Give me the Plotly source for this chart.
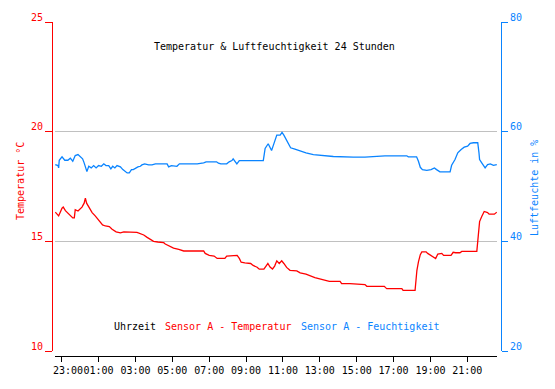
import plotly.graph_objects as go

# ---------------- data ----------------
temp_times = [
    "22:39", "22:50", "23:01", "23:05", "23:12", "23:20", "23:36", "23:41", "23:44", "23:53",
    "00:06", "00:13", "00:17", "00:21", "00:30", "00:39", "00:49", "00:58", "01:06", "01:13",
    "01:22", "01:35", "01:44", "01:57", "02:11", "02:22", "03:05", "03:13", "03:27", "03:38",
    "03:48", "03:59", "04:13", "04:32", "04:37", "04:50", "05:04", "05:21", "05:37", "06:42",
    "06:47", "07:00", "07:16", "07:26", "07:51", "07:57", "08:13", "08:18", "08:31", "08:38",
    "08:44", "08:56", "09:15", "09:23", "09:36", "09:43", "09:58", "10:05", "10:11", "10:18",
    "10:26", "10:33", "10:40", "10:48", "10:56", "11:03", "11:12", "11:23", "11:45", "11:56",
    "12:15", "12:44", "13:11", "13:31", "14:06", "14:11", "14:38", "15:27", "15:33", "16:30",
    "16:34", "16:38", "17:27", "17:31", "18:10", "18:12", "18:16", "18:21", "18:27", "18:32",
    "18:46", "18:51", "19:00", "19:06", "19:17", "19:24", "19:37", "19:43", "20:07", "20:14",
    "20:22", "20:36", "20:42", "21:31", "21:36", "21:40", "21:47", "21:55", "22:06", "22:11",
    "22:28", "22:36",
]
temp_values = [
    16.33, 16.16, 16.51, 16.56, 16.40, 16.28, 16.07, 16.07, 16.44, 16.38,
    16.56, 16.74, 16.97, 16.74, 16.51, 16.31, 16.16, 16.01, 15.89, 15.75,
    15.70, 15.67, 15.55, 15.43, 15.39, 15.43, 15.41, 15.37, 15.29, 15.18,
    15.09, 15.00, 14.97, 14.94, 14.88, 14.78, 14.69, 14.63, 14.56, 14.56,
    14.45, 14.36, 14.33, 14.22, 14.22, 14.33, 14.34, 14.37, 14.36, 14.22,
    14.05, 14.02, 13.99, 13.90, 13.82, 13.73, 13.73, 13.87, 13.99, 13.83,
    13.74, 13.87, 14.11, 13.99, 14.11, 13.99, 13.81, 13.68, 13.65, 13.56,
    13.50, 13.35, 13.26, 13.17, 13.17, 13.07, 13.07, 13.03, 12.95, 12.95,
    12.89, 12.84, 12.84, 12.76, 12.76, 13.15, 13.68, 14.06, 14.39, 14.52,
    14.52, 14.45, 14.36, 14.29, 14.22, 14.42, 14.45, 14.36, 14.36, 14.50,
    14.48, 14.48, 14.54, 14.54, 15.29, 15.90, 16.13, 16.36, 16.31, 16.24,
    16.24, 16.33,
]

hum_times = [
    "22:39", "22:48", "22:50", "22:52", "23:01", "23:10", "23:20", "23:28", "23:36", "23:44",
    "23:53", "00:00", "00:08", "00:13", "00:17", "00:22", "00:28", "00:36", "00:44", "00:52",
    "01:00", "01:09", "01:17", "01:24", "01:33", "01:40", "01:46", "01:53", "02:00", "02:11",
    "02:19", "02:27", "02:33", "02:40", "02:47", "02:53", "03:00", "03:08", "03:16", "03:21",
    "03:30", "03:43", "03:54", "04:05", "04:43", "04:48", "04:57", "05:08", "05:15", "05:23",
    "06:21", "06:42", "06:50", "07:24", "07:30", "07:38", "07:57", "08:05", "08:14", "08:18",
    "08:24", "08:30", "08:38", "09:56", "09:59", "10:02", "10:12", "10:18", "10:23", "10:29",
    "10:35", "10:40", "10:51", "10:57", "11:03", "11:10", "11:17", "11:25", "11:39", "11:56",
    "12:15", "12:39", "13:06", "13:44", "14:49", "15:27", "16:32", "17:43", "17:48", "18:15",
    "18:21", "18:27", "18:34", "18:48", "19:02", "19:13", "19:20", "19:31", "20:04", "20:09",
    "20:20", "20:29", "20:40", "20:50", "21:01", "21:09", "21:20", "21:34", "21:38", "21:40",
    "21:47", "21:58", "22:06", "22:15", "22:25", "22:36",
]
hum_values = [
    54.00, 53.82, 53.39, 54.79, 55.41, 54.79, 54.79, 55.16, 54.61, 55.65,
    55.83, 55.41, 55.05, 54.31, 53.39, 52.72, 53.69, 53.39, 53.82, 53.39,
    53.82, 53.69, 54.13, 53.82, 53.82, 53.21, 53.69, 53.39, 53.82, 53.58,
    53.08, 52.77, 52.48, 52.48, 53.08, 53.08, 53.39, 53.58, 53.69, 53.94,
    54.13, 53.94, 53.94, 54.13, 54.13, 53.58, 53.82, 53.82, 53.69, 54.13,
    54.13, 54.31, 54.50, 54.50, 54.24, 54.13, 54.13, 54.50, 54.73, 55.05,
    54.50, 54.13, 54.73, 54.73, 55.83, 56.94, 57.80, 57.17, 56.57, 57.54,
    58.59, 59.38, 59.38, 59.87, 59.38, 58.59, 57.80, 57.06, 56.81, 56.44,
    56.15, 55.83, 55.71, 55.47, 55.34, 55.34, 55.60, 55.60, 55.41, 55.41,
    54.61, 53.50, 53.08, 52.95, 53.08, 53.39, 53.08, 52.66, 52.66, 53.87,
    54.92, 56.15, 56.75, 57.17, 57.36, 57.85, 57.98, 57.98, 56.15, 54.92,
    54.31, 53.39, 54.00, 54.13, 53.87, 54.00,
]

x_tick_labels = ["23:00", "01:00", "03:00", "05:00", "07:00", "09:00",
                 "11:00", "13:00", "15:00", "17:00", "19:00", "21:00"]
temp_ticks = [10, 15, 20, 25]
hum_ticks = [20, 40, 60, 80]

title_text = "Temperatur & Luftfeuchtigkeit 24 Stunden"
x_title = "Uhrzeit"
temp_name = "Sensor A - Temperatur"
hum_name = "Sensor A - Feuchtigkeit"
temp_axis_title = "Temperatur °C"
hum_axis_title = "Luftfeuchte in %"

assert len(temp_times) == len(temp_values)
assert len(hum_times) == len(hum_values)

# ---------------- helpers ----------------
DAY1, DAY2 = "2024-05-01", "2024-05-02"
START = "22:37"


def stamp(hhmm):
    return (DAY1 if hhmm >= START else DAY2) + " " + hhmm


RED = "#ff0000"
BLUE = "#0a84ff"
GRID = "#c0c0c0"
FONT = "DejaVu Sans Mono"

W, H = 555, 389
ML, MR, MT, MB = 52, 54, 22, 33
PW, PH = W - ML - MR, H - MT - MB


def px(xp):
    return (xp - ML) / PW


def py(yp):
    return (H - MB - yp) / PH


fig = go.Figure()
fig.add_trace(go.Scatter(
    x=[stamp(t) for t in temp_times], y=temp_values, name=temp_name,
    mode="lines", line=dict(color=RED, width=1.3), yaxis="y",
))
fig.add_trace(go.Scatter(
    x=[stamp(t) for t in hum_times], y=hum_values, name=hum_name,
    mode="lines", line=dict(color=BLUE, width=1.3), yaxis="y2",
))

tick_vals = [stamp(t) for t in x_tick_labels]
tick_text = [""] + x_tick_labels[1:]

fig.update_layout(
    width=W, height=H,
    margin=dict(l=ML, r=MR, t=MT, b=MB, pad=0),
    paper_bgcolor="white", plot_bgcolor="white",
    showlegend=False,
    font=dict(family=FONT, size=10, color="black"),
    xaxis=dict(
        type="date", domain=[px(55), px(497)], anchor="free", position=0,
        range=[DAY1 + " 22:38:10", DAY2 + " 22:36:40"],
        tickmode="array", tickvals=tick_vals, ticktext=tick_text,
        ticks="outside", ticklen=5, tickcolor="black", tickwidth=1,
        showline=True, linecolor="black", linewidth=1,
        showgrid=False, zeroline=False,
        tickfont=dict(family=FONT, size=10, color="black"),
    ),
    yaxis=dict(
        domain=[py(351), 1], anchor="free", position=0,
        range=[10, 25], tickmode="array", tickvals=temp_ticks,
        ticks="outside", ticklen=7, tickcolor=RED, tickwidth=1,
        showline=True, linecolor=RED, linewidth=1,
        showgrid=True, gridcolor=GRID, gridwidth=1, zeroline=False,
        tickfont=dict(family=FONT, size=10, color=RED),
        ticklabelshift=-5,
    ),
    yaxis2=dict(
        overlaying="y", side="right", anchor="free", position=1,
        range=[20, 80], tickmode="array", tickvals=hum_ticks,
        ticks="outside", ticklen=6, tickcolor=BLUE, tickwidth=1,
        showline=True, linecolor=BLUE, linewidth=1,
        showgrid=False, zeroline=False,
        tickfont=dict(family=FONT, size=10, color=BLUE),
        ticklabelshift=-5,
    ),
)

ann = [
    dict(text=title_text, x=px(274.5), y=py(46.7), xanchor="center", yanchor="middle",
         font=dict(color="black")),
    dict(text=x_title, x=px(111.7), y=py(326), xanchor="left", yanchor="middle",
         font=dict(color="black")),
    dict(text=temp_name, x=px(163.3), y=py(326), xanchor="left", yanchor="middle",
         font=dict(color=RED)),
    dict(text=hum_name, x=px(299.3), y=py(326), xanchor="left", yanchor="middle",
         font=dict(color=BLUE)),
    dict(text=temp_axis_title, x=px(20), y=py(181), xanchor="center", yanchor="middle",
         textangle=-90, font=dict(color=RED)),
    dict(text=hum_axis_title, x=px(534), y=py(188), xanchor="center", yanchor="middle",
         textangle=-90, font=dict(color=BLUE)),
    dict(text=x_tick_labels[0], x=tick_vals[0], xref="x", y=py(370),
         xanchor="center", yanchor="middle", xshift=6, font=dict(color="black")),
]
for a in ann:
    a.setdefault("xref", "paper")
    a["yref"] = "paper"
    a["showarrow"] = False
    a["font"] = dict(family=FONT, size=10, **a["font"])
fig.update_layout(annotations=ann)

fig.write_html(
    "out.html",
    config={"displayModeBar": False},
    post_script="document.body.style.margin='0';document.body.style.overflow='hidden';",
)
